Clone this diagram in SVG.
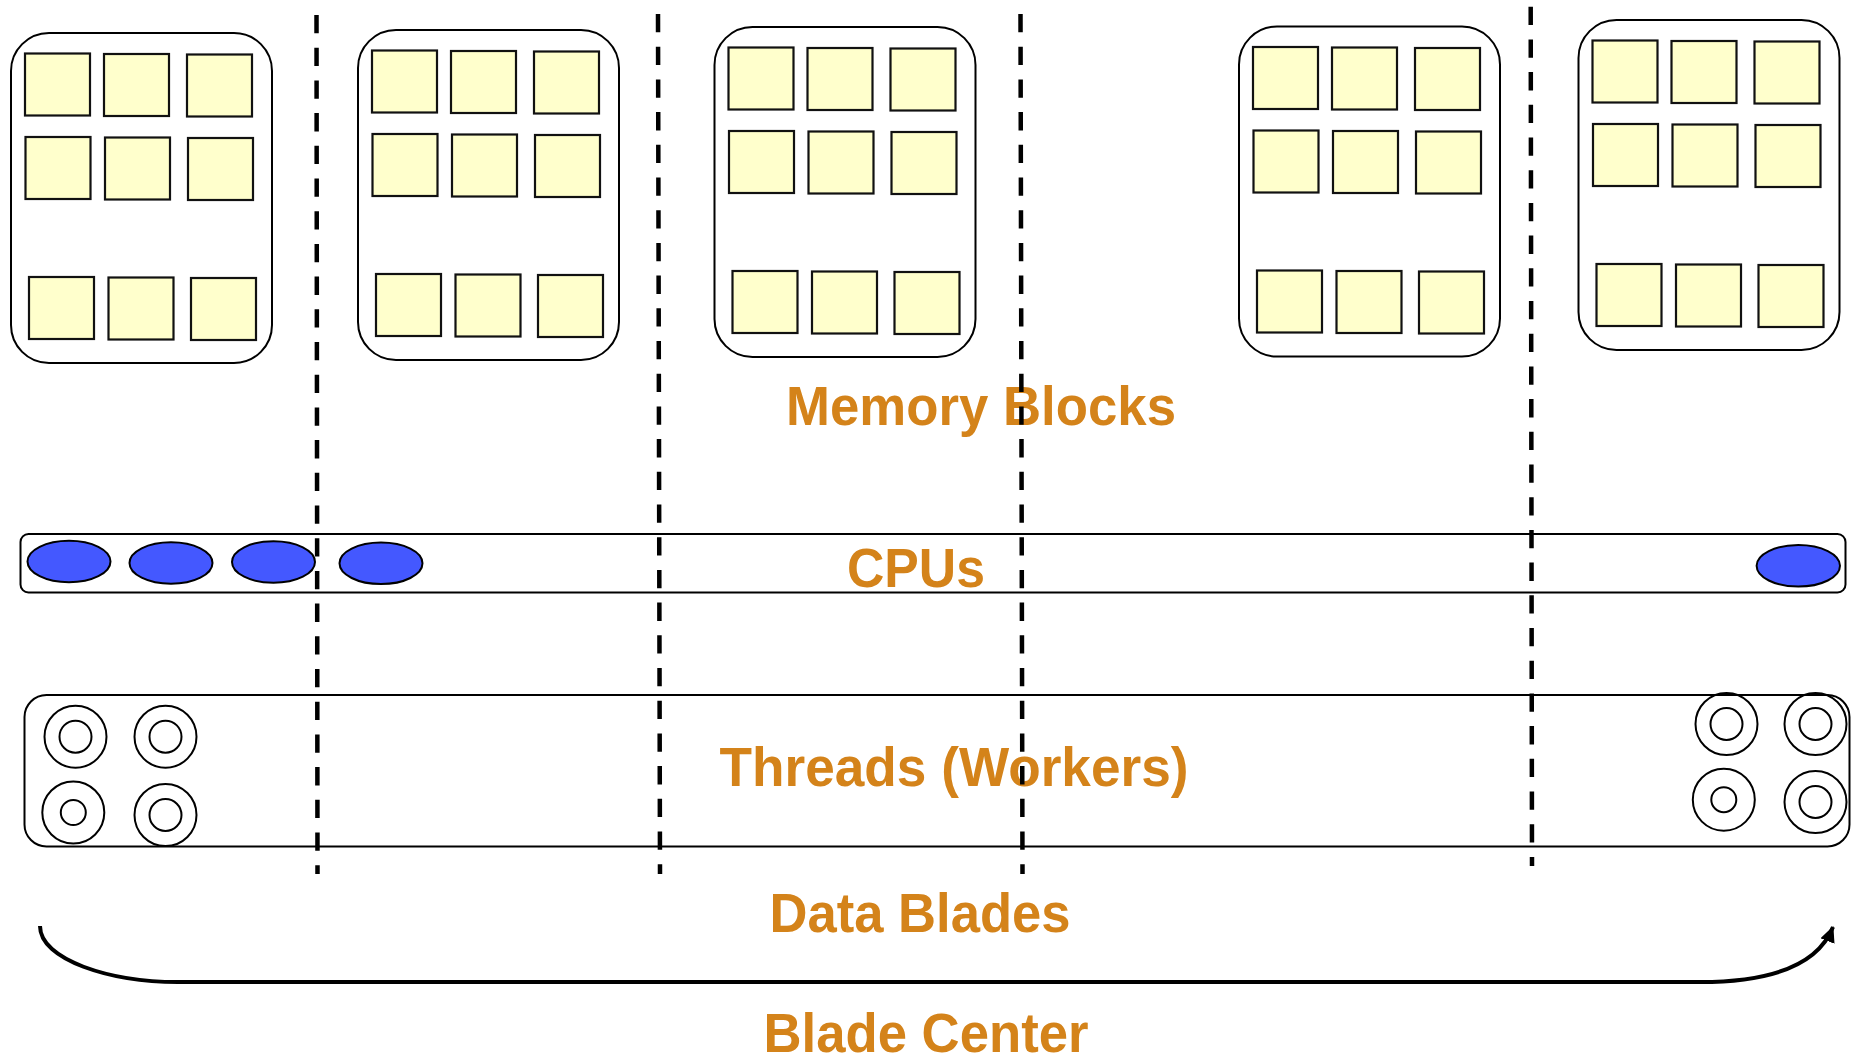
<svg xmlns="http://www.w3.org/2000/svg" xmlns:xlink="http://www.w3.org/1999/xlink" width="1852" height="1056" viewBox="0 0 1852 1056">
<style>
.box{fill:#fff;stroke:#000;stroke-width:2}
.sq{fill:#FFFFCC;stroke:#111;stroke-width:2.2}
.cpu{fill:#4458FF;stroke:#000;stroke-width:2}
.ring{fill:none;stroke:#000;stroke-width:2}
.bar{fill:#fff;stroke:#000;stroke-width:2}
.lbl{font-family:"Liberation Sans",Arial,Helvetica,sans-serif;font-weight:bold;font-size:55px;fill:#D4831A}
.dash{stroke:#000;stroke-width:4.5;stroke-dasharray:18.3 14.4;fill:none}
.curve{fill:none;stroke:#000;stroke-width:4}
</style>
<defs>
<g id="memtpl">
<rect class="box" x="0" y="0" width="261" height="330" rx="38" ry="38"/>
<rect class="sq" x="14" y="20.5" width="65" height="62"/>
<rect class="sq" x="93" y="21" width="65" height="62"/>
<rect class="sq" x="176" y="21.5" width="65" height="62"/>
<rect class="sq" x="14.5" y="104" width="65" height="62"/>
<rect class="sq" x="94" y="104.5" width="65" height="62"/>
<rect class="sq" x="177" y="105" width="65" height="62"/>
<rect class="sq" x="18" y="244" width="65" height="62"/>
<rect class="sq" x="97.5" y="244.5" width="65" height="62"/>
<rect class="sq" x="180" y="245" width="65" height="62"/>
</g>
<g id="thread"><circle class="ring" r="31"/><circle class="ring" r="16"/></g>
<g id="threadS"><circle class="ring" r="31"/><circle class="ring" r="12.5"/></g>
<marker id="ah" markerUnits="userSpaceOnUse" markerWidth="18" markerHeight="16" refX="15" refY="7.5" orient="auto">
<path d="M0,0 L16,7.5 L0,15 z" fill="#000"/>
</marker>
</defs>

<g id="memory-blade-1"><use xlink:href="#memtpl" href="#memtpl" transform="translate(11,33)"/></g>
<g id="memory-blade-2"><use xlink:href="#memtpl" href="#memtpl" transform="translate(358,30)"/></g>
<g id="memory-blade-3"><use xlink:href="#memtpl" href="#memtpl" transform="translate(714.5,27)"/></g>
<g id="memory-blade-4"><use xlink:href="#memtpl" href="#memtpl" transform="translate(1239,26.5)"/></g>
<g id="memory-blade-5"><use xlink:href="#memtpl" href="#memtpl" transform="translate(1578.5,20)"/></g>

<g id="label-memory"><text class="lbl" x="786" y="425" textLength="390" lengthAdjust="spacingAndGlyphs">Memory Blocks</text></g>

<g id="cpus">
<rect class="bar" x="20.5" y="534" width="1825" height="58.5" rx="8" ry="8"/>
<ellipse class="cpu" cx="69" cy="561.5" rx="41.5" ry="20.8"/>
<ellipse class="cpu" cx="171" cy="563" rx="41.5" ry="20.8"/>
<ellipse class="cpu" cx="273.5" cy="562" rx="41.5" ry="20.8"/>
<ellipse class="cpu" cx="381" cy="563.3" rx="41.5" ry="20.8"/>
<ellipse class="cpu" cx="1798.3" cy="565.8" rx="41.7" ry="20.8"/>
<text class="lbl" x="847" y="587" textLength="138" lengthAdjust="spacingAndGlyphs">CPUs</text>
</g>

<g id="threads">
<rect class="bar" x="24.5" y="695" width="1825" height="151.5" rx="22" ry="22"/>
<use xlink:href="#thread" href="#thread" x="75.5" y="736.7"/>
<use xlink:href="#thread" href="#thread" x="165.5" y="736.7"/>
<use xlink:href="#threadS" href="#threadS" x="73.3" y="812.5"/>
<use xlink:href="#thread" href="#thread" x="165.5" y="815"/>
<use xlink:href="#thread" href="#thread" x="1726.5" y="724"/>
<use xlink:href="#thread" href="#thread" x="1815.5" y="724"/>
<use xlink:href="#threadS" href="#threadS" x="1723.8" y="799.7"/>
<use xlink:href="#thread" href="#thread" x="1815.5" y="802"/>
<text class="lbl" x="719.5" y="786" textLength="469" lengthAdjust="spacingAndGlyphs">Threads (Workers)</text>
</g>

<g id="label-data-blades"><text class="lbl" x="769.5" y="932" textLength="301" lengthAdjust="spacingAndGlyphs">Data Blades</text></g>
<g id="label-blade-center"><text class="lbl" x="763.5" y="1052" textLength="325" lengthAdjust="spacingAndGlyphs">Blade Center</text></g>

<g id="connectors">
<path class="curve" d="M40,926 C40,960 110,982 178,982 L1700,982 C1770,982 1818,965 1833,927" marker-end="url(#ah)"/>
<line class="dash" x1="316.5" y1="15" x2="317.5" y2="874"/>
<line class="dash" x1="658" y1="14" x2="660" y2="874"/>
<line class="dash" x1="1020.5" y1="14" x2="1022.5" y2="874"/>
<line class="dash" x1="1530.7" y1="6.7" x2="1532" y2="866"/>
</g>
</svg>
